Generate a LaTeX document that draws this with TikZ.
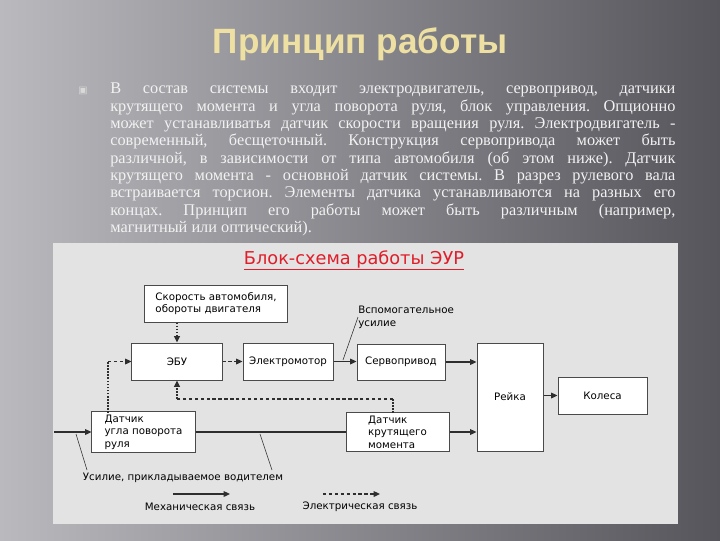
\documentclass[tikz,border=0pt]{standalone}
\usepackage{fontspec}
\setmainfont{Liberation Serif}
\newfontfamily\diagfont{DejaVu Sans}
\newfontfamily\headfont{Liberation Sans}
\usetikzlibrary{arrows.meta}

\definecolor{slidelight}{HTML}{B9B9BE}
\definecolor{slidedark}{HTML}{55555B}
\definecolor{panelgrey}{HTML}{E3E3E3}
\definecolor{titlegold}{HTML}{EDE0A2}
\definecolor{schemered}{HTML}{E01E2A}
\definecolor{boxline}{HTML}{4A4A4A}
\definecolor{wireline}{HTML}{2E2E2E}

\tikzset{
  arr/.style={-{Triangle[length=4.5pt,width=4pt]}},
  block/.style={draw=boxline, line width=0.7pt, fill=white, inner sep=2pt,
    font=\diagfont\fontsize{7.3}{9}\selectfont},
  lbl/.style={font=\diagfont\fontsize{7.3}{9}\selectfont, inner sep=0pt},
  mech/.style={draw=wireline, line width=0.9pt},
  elec/.style={draw=wireline, line width=0.9pt, dash pattern=on 2.4pt off 1.8pt},
  elecdot/.style={draw=wireline, line width=1.1pt, dash pattern=on 1.1pt off 1.1pt},
  leader/.style={draw=wireline, line width=0.4pt},
}

\begin{document}
\frenchspacing
\begin{tikzpicture}[x=0.025cm, y=-0.025cm]
%	\draw[help lines] (0,0) grid (720,540);
	\useasboundingbox (0,0) rectangle (720,540);
	\shade[left color=slidelight, right color=slidedark] (0,0) rectangle (720,540);
	\fill[panelgrey] (53,243) rectangle (678,524);

	% slide text
	\node [font=\headfont\bfseries\fontsize{25}{30}\selectfont, text=titlegold, anchor=base] (title) at (360,53) {Принцип работы};
	\node [font=\diagfont\fontsize{7}{8}\selectfont, text=white!85!black] (bullet) at (83,91) {▣};
	\node [anchor=north west, inner sep=0pt, text width=14.125cm, align=justify, text=white!95!black,
		font=\fontsize{11.6}{12.3}\selectfont] (body) at (110,83) {%
		В состав системы входит электродвигатель, сервопривод, датчики\linebreak
		крутящего момента и угла поворота руля, блок управления. Опционно\linebreak
		может устанавливатья датчик скорости вращения руля. Электродвигатель -\linebreak
		современный, бесщеточный. Конструкция сервопривода может быть\linebreak
		различной, в зависимости от типа автомобиля (об этом ниже). Датчик\linebreak
		крутящего момента - основной датчик системы. В разрез рулевого вала\linebreak
		встраивается торсион. Элементы датчика устанавливаются на разных его\linebreak
		концах. Принцип его работы может быть различным (например,\linebreak
		магнитный или оптический).};

	% scheme
	\node [font=\diagfont\fontsize{12.6}{14}\selectfont, text=schemered, anchor=base] (scheme) at (354,264) {\underline{Блок-схема работы ЭУР}};

	\node [block, minimum width=3.55cm, minimum height=0.925cm, align=left] (speed) at (216,303.5) {Скорость автомобиля,\\обороты двигателя};
	\node [block, minimum width=2.25cm, minimum height=0.925cm] (ecu) at (177,361.5) {ЭБУ};
	\node [block, minimum width=2.25cm, minimum height=0.925cm] (motor) at (288,361.5) {Электромотор};
	\node [block, minimum width=2.2cm, minimum height=0.9cm] (servo) at (401,362) {Сервопривод};
	\node [block, minimum width=1.65cm, minimum height=2.7cm] (rack) at (510,397) {Рейка};
	\node [block, minimum width=2.225cm, minimum height=0.925cm] (wheels) at (602.5,395.5) {Колеса};
	\node [block, minimum width=2.575cm, minimum height=0.95cm, align=left] (angle) at (143.5,432) {Датчик\\угла поворота\\руля};
	\node [block, minimum width=2.575cm, minimum height=0.95cm, align=left] (torque) at (397.5,432) {Датчик\\крутящего\\момента};

	\node [lbl, anchor=west, align=left] (assistlbl) at (358,317) {Вспомогательное\\усилие};
	\node [lbl] (driverlbl) at (183,478) {Усилие, прикладываемое водителем};
	\node [lbl] (mechlbl) at (200,507) {Механическая связь};
	\node [lbl] (eleclbl) at (360,507) {Электрическая связь};

	\coordinate (drvin) at (54,432);
	\coordinate (assistpt) at (343,360);
	\coordinate (inpt) at (76,434);
	\coordinate (shaftpt) at (260,434);
	\coordinate (lblA) at (87,470);
	\coordinate (lblB) at (272,470);
	\coordinate (angtap) at (108,413);
	\coordinate (angbend) at (108,361.5);
	\coordinate (trqtap) at (393,413);
	\coordinate (trqbend) at (393,399);
	\coordinate (ecubend) at (177,399);
	\coordinate (mechA) at (173,494);
	\coordinate (mechB) at (230,494);
	\coordinate (elecA) at (323,494);
	\coordinate (elecB) at (380,494);

	% mechanical links
	\draw [mech, arr] (drvin) -- (angle.west);
	\draw [mech] (angle.east) -- (torque.west);
	\draw [mech, arr] (torque.east) -- (torque.east -| rack.west);
	\draw [mech, arr] (motor.east) -- (motor.east -| servo.west);
	\draw [mech, arr] (servo.east) -- (servo.east -| rack.west);
	\draw [mech, arr] (wheels.west -| rack.east) -- (wheels.west);

	% electrical links
	\draw [elecdot, arr] (speed.south -| ecu.north) -- (ecu.north);
	\draw [elec, arr] (ecu.east) -- (motor.west);
	\draw [elecdot] (angtap) -- (angbend);
	\draw [elec, arr] (angbend) -- (ecu.west);
	\draw [elecdot] (trqtap) -- (trqbend);
	\draw [elec] (trqbend) -- (ecubend);
	\draw [elecdot, arr] (ecubend) -- (ecu.south);

	% leaders
	\draw [leader] (assistlbl.west) -- (assistpt);
	\draw [leader] (lblA) -- (inpt);
	\draw [leader] (lblB) -- (shaftpt);

	% legend
	\draw [mech, arr] (mechA) -- (mechB);
	\draw [elec, arr] (elecA) -- (elecB);
\end{tikzpicture}
\end{document}
